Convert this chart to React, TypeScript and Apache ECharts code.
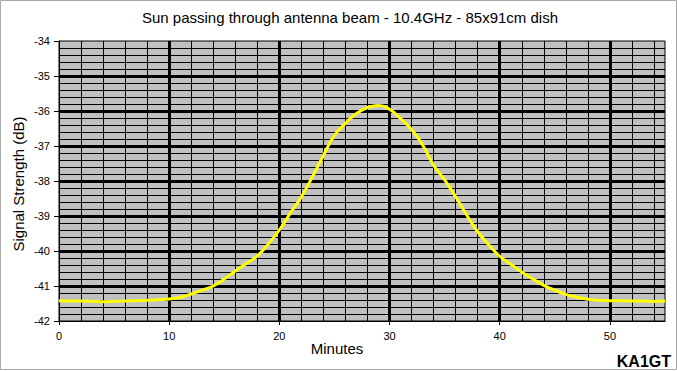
import React, { useEffect, useRef } from "react";
import * as echarts from "echarts";

// Minutes since start of the recording
const minutes: number[] = [
  0, 1, 2, 3, 4, 5, 6, 7, 8, 9, 10, 11, 12, 13, 14, 15, 16, 17, 18, 19,
  20, 21, 22, 23, 24, 25, 26, 27, 28, 29, 30, 31, 32, 33, 34, 35, 36, 37, 38, 39,
  40, 41, 42, 43, 44, 45, 46, 47, 48, 49, 50, 51, 52, 53, 54, 55,
];

// Signal strength in dB
const signalDb: number[] = [
  -41.42, -41.43, -41.43, -41.44, -41.45, -41.44, -41.43, -41.42, -41.41, -41.39,
  -41.37, -41.32, -41.23, -41.12, -41.0, -40.8, -40.57, -40.36, -40.14, -39.8,
  -39.4, -38.92, -38.45, -37.88, -37.27, -36.7, -36.35, -36.07, -35.9, -35.84,
  -35.95, -36.22, -36.53, -36.97, -37.55, -37.97, -38.45, -38.97, -39.45, -39.82,
  -40.15, -40.38, -40.6, -40.8, -40.98, -41.12, -41.24, -41.32, -41.38, -41.41,
  -41.42, -41.42, -41.43, -41.43, -41.44, -41.43,
];

const titleText = "Sun passing through antenna beam - 10.4GHz - 85x91cm dish";
const xAxisName = "Minutes";
const yAxisName = "Signal Strength (dB)";
const creditText = "KA1GT";

const FONT = "'Liberation Sans', Arial, sans-serif";

export default function App() {
  const ref = useRef<HTMLDivElement>(null);

  useEffect(() => {
    if (!ref.current) return;
    const chart = echarts.init(ref.current, null, { renderer: "svg" });
    const data = minutes.map((m, i) => [m, signalDb[i]]);

    chart.setOption({
      animation: false,
      backgroundColor: "#ffffff",
      grid: {
        left: 59,
        right: 12,
        top: 41,
        bottom: 50,
        show: true,
        backgroundColor: "#c0c0c0",
        borderColor: "#000000",
        borderWidth: 1,
        containLabel: false,
      },
      xAxis: [
        {
          type: "value",
          min: 0,
          max: 55,
          interval: 10,
          axisLine: { show: true, onZero: false, lineStyle: { color: "#000", width: 1 } },
          axisTick: { show: true, length: 4, lineStyle: { color: "#000" } },
          axisLabel: {
            color: "#000",
            fontFamily: FONT,
            fontSize: 11,
            margin: 9,
            showMaxLabel: false,
          },
          splitLine: {
            show: true,
            showMinLine: false,
            showMaxLine: false,
            lineStyle: { color: "#000", width: 3 },
          },
          z: 3,
        },
        {
          type: "value",
          min: 0,
          max: 55,
          interval: 2,
          position: "bottom",
          axisLine: { show: false },
          axisTick: { show: false },
          axisLabel: { show: false },
          splitLine: {
            show: true,
            showMinLine: false,
            showMaxLine: false,
            lineStyle: { color: "#000", width: 1 },
          },
          z: 1,
        },
      ],
      yAxis: {
        type: "value",
        min: -42,
        max: -34,
        interval: 1,
        axisLine: { show: true, onZero: false, lineStyle: { color: "#000", width: 1 } },
        axisTick: { show: true, length: 5, lineStyle: { color: "#000" } },
        axisLabel: {
          color: "#000",
          fontFamily: FONT,
          fontSize: 11,
          margin: 9,
        },
        splitLine: {
          show: true,
          showMinLine: false,
          showMaxLine: false,
          lineStyle: { color: "#000", width: 3 },
        },
        minorTick: { show: false, splitNumber: 5 },
        minorSplitLine: { show: true, lineStyle: { color: "#000", width: 1 } },
      },
      series: [
        {
          type: "line",
          xAxisIndex: 0,
          data,
          smooth: true,
          showSymbol: false,
          symbol: "none",
          lineStyle: { color: "#ffff00", width: 3 },
          z: 5,
        },
      ],
      graphic: [
        {
          type: "rect",
          silent: true,
          shape: { x: 0.5, y: 0.5, width: 676, height: 369 },
          style: { fill: "none", stroke: "#a8a8a8", lineWidth: 1 },
        },
        {
          type: "text",
          x: 350,
          y: 17,
          style: {
            text: titleText,
            fontFamily: FONT,
            fontSize: 15,
            fill: "#000",
            align: "center",
            verticalAlign: "middle",
          },
        },
        {
          type: "text",
          x: 337,
          y: 348,
          style: {
            text: xAxisName,
            fontFamily: FONT,
            fontSize: 15,
            fill: "#000",
            align: "center",
            verticalAlign: "middle",
          },
        },
        {
          type: "text",
          x: 18,
          y: 184,
          rotation: Math.PI / 2,
          style: {
            text: yAxisName,
            fontFamily: FONT,
            fontSize: 15,
            fill: "#000",
            align: "center",
            verticalAlign: "middle",
          },
        },
        {
          type: "text",
          x: 671,
          y: 361,
          style: {
            text: creditText,
            fontFamily: FONT,
            fontSize: 16,
            fontWeight: "bold",
            fill: "#000",
            align: "right",
            verticalAlign: "middle",
          },
        },
      ],
    });

    return () => chart.dispose();
  }, []);

  return (
    <div
      ref={ref}
      style={{ position: "fixed", left: 0, top: 0, width: 677, height: 371 }}
    />
  );
}
